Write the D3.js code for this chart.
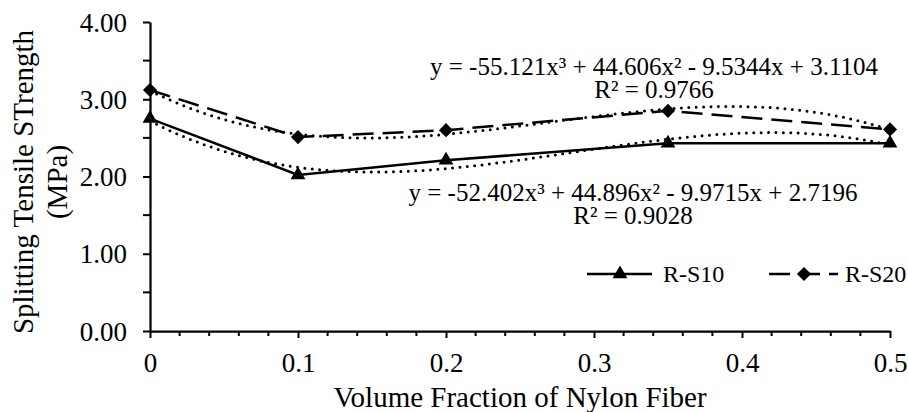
<!DOCTYPE html>
<html>
<head>
<meta charset="utf-8">
<script src="https://cdn.jsdelivr.net/npm/d3@7"></script>
<style>
  html, body { margin: 0; padding: 0; background: #fff; }
  svg text { font-family: "Liberation Serif", "Tinos", "Times New Roman", "DejaVu Serif", serif !important; fill: #000; }
</style>
</head>
<body>
<svg id="chart" width="908" height="412"></svg>
<script>
// Volume fraction of nylon fibre (x) for each mix
const fractions = [0, 0.1, 0.2, 0.35, 0.5];
// Splitting tensile strength (MPa) for each series
const rs10 = [2.75, 2.02, 2.21, 2.43, 2.43];
const rs20 = [3.12, 2.51, 2.60, 2.85, 2.61];
const seriesNames = ["R-S10", "R-S20"];
// Cubic trendline coefficients [a3, a2, a1, a0]
const trendS10 = [-52.402, 44.896, -9.9715, 2.7196];
const trendS20 = [-55.121, 44.606, -9.5344, 3.1104];
const r2S10 = "0.9028";
const r2S20 = "0.9766";
// Axis ticks
const xTicks = [0, 0.1, 0.2, 0.3, 0.4, 0.5];
const xTickLabels = ["0", "0.1", "0.2", "0.3", "0.4", "0.5"];
const yTicks = [0, 1, 2, 3, 4];
const yTickLabels = ["0.00", "1.00", "2.00", "3.00", "4.00"];

const SERIF = "'Liberation Serif', Tinos, 'Times New Roman', serif";
const svg = d3.select("#chart");
const x = d3.scaleLinear().domain([0, 0.5]).range([150, 890]);
const y = d3.scaleLinear().domain([0, 4]).range([331, 22]);

// Evaluate a cubic from its coefficients
const cubic = (c, v) => ((c[0] * v + c[1]) * v + c[2]) * v + c[3];
const fmt = v => (v < 0 ? "- " + Math.abs(v) : "+ " + v);
const eqText = c => `y = ${c[0]}x³ ${fmt(c[1])}x² ${fmt(c[2])}x ${fmt(c[3])}`;

// ---- axes ----
const yAxis = svg.append("g").attr("transform", `translate(${x(0)},0)`)
  .call(d3.axisLeft(y).tickValues(yTicks).tickFormat((d, i) => yTickLabels[i])
    .tickSize(7).tickPadding(16).tickSizeOuter(0));
yAxis.append("g").selectAll("line").data(d3.range(0.5, 4, 1)).join("line")
  .attr("x1", -7).attr("x2", 0).attr("y1", d => y(d)).attr("y2", d => y(d))
  .attr("stroke", "#000").attr("stroke-width", 2);

const xAxis = svg.append("g").attr("transform", `translate(0,${y(0)})`)
  .call(d3.axisBottom(x).tickValues(xTicks).tickFormat((d, i) => xTickLabels[i])
    .tickSize(7).tickPadding(15).tickSizeOuter(0));
xAxis.append("g").selectAll("line")
  .data(d3.range(1, 25).map(i => i * 0.02).filter((d, i) => (i + 1) % 5 !== 0))
  .join("line")
  .attr("x1", d => x(d)).attr("x2", d => x(d)).attr("y1", 0).attr("y2", 5)
  .attr("stroke", "#000").attr("stroke-width", 2);

[xAxis, yAxis].forEach(a => {
  a.attr("font-family", SERIF);
  a.select(".domain").attr("stroke", "#000").attr("stroke-width", 2.25);
  a.selectAll(".tick line").attr("stroke", "#000").attr("stroke-width", 2);
  a.selectAll(".tick text").attr("font-size", 27).attr("fill", "#000")
    .style("font-family", SERIF);
});
yAxis.selectAll(".tick text").attr("dy", "0.34em");
xAxis.selectAll(".tick text").attr("dy", "0.71em");

// ---- axis titles ----
svg.append("text").attr("x", x(0.25)).attr("y", 407).attr("text-anchor", "middle")
  .attr("font-size", 29).style("font-family", SERIF).text("Volume Fraction of Nylon Fiber");
const yt = svg.append("text").attr("transform", "translate(0,182) rotate(-90)")
  .attr("text-anchor", "middle").attr("font-size", 29).style("font-family", SERIF);
yt.append("tspan").attr("x", 0).attr("y", 33).text("Splitting Tensile STrength");
yt.append("tspan").attr("x", 0).attr("y", 67).text("(MPa)");

// ---- trendlines (dotted cubic fits) ----
const xs = d3.range(0, 0.5 + 1e-9, 0.005);
const curve = d3.line().x(d => x(d[0])).y(d => y(d[1]));
[trendS10, trendS20].forEach(c => {
  svg.append("path").attr("d", curve(xs.map(v => [v, cubic(c, v)])))
    .attr("fill", "none").attr("stroke", "#000").attr("stroke-width", 3)
    .attr("stroke-linecap", "round").attr("stroke-dasharray", "0 7.4");
});

// ---- series lines ----
const line = d3.line().x((d, i) => x(fractions[i])).y(d => y(d));
svg.append("path").attr("d", line(rs10)).attr("fill", "none")
  .attr("stroke", "#000").attr("stroke-width", 2.5);
svg.append("path").attr("d", line(rs20)).attr("fill", "none")
  .attr("stroke", "#000").attr("stroke-width", 2.5).attr("stroke-dasharray", "21 9");

// ---- markers ----
const tri = d3.symbol().type(d3.symbolTriangle).size(95);
const dia = d3.symbol().type(d3.symbolSquare).size(100); // drawn rotated 45°
svg.append("g").selectAll("path").data(rs10).join("path")
  .attr("d", tri).attr("transform", (d, i) => `translate(${x(fractions[i])},${y(d)})`)
  .attr("fill", "#000");
svg.append("g").selectAll("path").data(rs20).join("path")
  .attr("d", dia).attr("transform", (d, i) => `translate(${x(fractions[i])},${y(d)}) rotate(45)`)
  .attr("fill", "#000");

// ---- trendline equations ----
function equation(cx, by, c, r2) {
  const t = svg.append("text").attr("text-anchor", "middle").attr("font-size", 25)
    .style("font-family", SERIF);
  t.append("tspan").attr("x", cx).attr("y", by).text(eqText(c));
  t.append("tspan").attr("x", cx).attr("y", by + 23).text("R² = " + r2);
}
equation(654, 75, trendS20, r2S20);
equation(633, 201, trendS10, r2S10);

// ---- legend ----
const lg = svg.append("g");
lg.append("line").attr("x1", 587).attr("x2", 652).attr("y1", 274).attr("y2", 274)
  .attr("stroke", "#000").attr("stroke-width", 2.5);
lg.append("path").attr("d", tri).attr("transform", "translate(620,274)").attr("fill", "#000");
lg.append("text").attr("x", 663).attr("y", 282).attr("font-size", 24)
  .style("font-family", SERIF).text(seriesNames[0]);
lg.append("line").attr("x1", 769).attr("x2", 838).attr("y1", 274).attr("y2", 274)
  .attr("stroke", "#000").attr("stroke-width", 2.5).attr("stroke-dasharray", "21 9");
lg.append("path").attr("d", dia).attr("transform", "translate(804,274) rotate(45)").attr("fill", "#000");
lg.append("text").attr("x", 845).attr("y", 282).attr("font-size", 24)
  .style("font-family", SERIF).text(seriesNames[1]);
</script>
</body>
</html>
